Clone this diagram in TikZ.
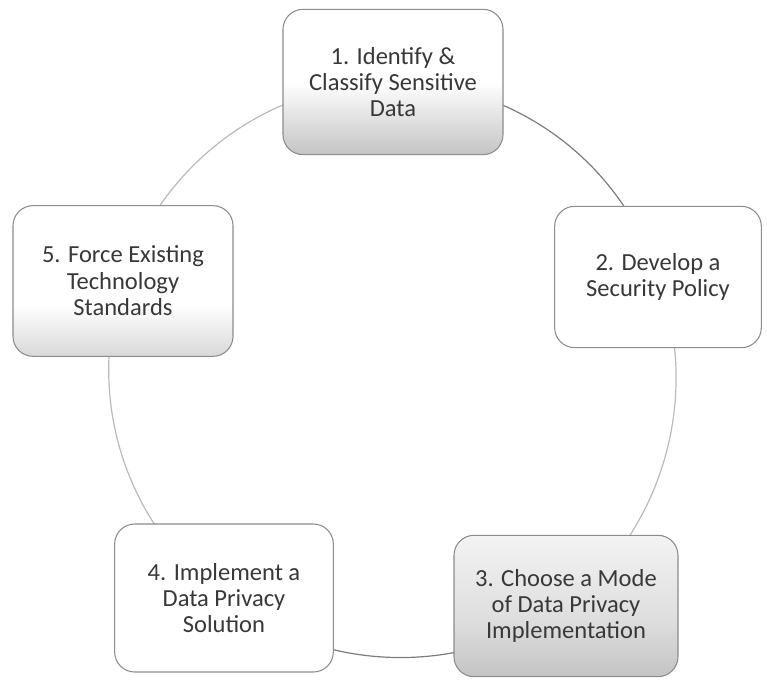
\documentclass[tikz,border=0pt]{standalone}
\usepackage{fontspec}
\setmainfont{Carlito}
\usetikzlibrary{backgrounds}
\definecolor{edgegray}{HTML}{8C8C8C}
\definecolor{txtgray}{HTML}{383838}
\definecolor{linkdark}{HTML}{7C7C7C}
\definecolor{linklight}{HTML}{BABABA}
\definecolor{shA}{HTML}{C4C4C4}
\definecolor{shB}{HTML}{C4C4C4}
\definecolor{shBm}{HTML}{DEDEDE}
\definecolor{shBt}{HTML}{F3F3F3}
\definecolor{shC}{HTML}{D8D8D8}
\pgfdeclareverticalshading{shadeone}{100bp}{color(0bp)=(shA); color(25bp)=(shA); color(50bp)=(white); color(100bp)=(white)}
\pgfdeclareverticalshading{shadethree}{100bp}{color(0bp)=(shB); color(25bp)=(shB); color(45bp)=(shBm); color(75bp)=(shBt); color(100bp)=(shBt)}
\pgfdeclareverticalshading{shadefive}{100bp}{color(0bp)=(shC); color(25bp)=(shC); color(42bp)=(white); color(100bp)=(white)}
\begin{document}
\begin{tikzpicture}[x=0.75pt,y=-0.75pt,
  stage/.style={draw=edgegray, line width=0.8pt, rounded corners=15pt, align=center,
    text=txtgray, font=\fontsize{18.4}{19.8}\selectfont,
    minimum width=165pt, minimum height=109pt, inner sep=0pt, fill=white},
  link/.style={line width=0.9pt, bend left=36, looseness=0.94}]
\useasboundingbox (0,0) rectangle (767,680);
\node[stage, shading=shadeone] (s1) at (393,82) {1. Identify \&\\Classify Sensitive\\Data};
\node[stage, minimum width=155pt, minimum height=106pt] (s2) at (658,277) {2. Develop a\\Security Policy};
\node[stage, shading=shadethree, minimum width=168pt, minimum height=106pt] (s3) at (566,606) {3. Choose a Mode\\of Data Privacy\\Implementation};
\node[stage, minimum width=164pt, minimum height=111pt] (s4) at (224,598) {4. Implement a\\Data Privacy\\Solution};
\node[stage, shading=shadefive, minimum width=165pt, minimum height=113pt] (s5) at (123,281) {5. Force Existing\\Technology\\Standards};
\begin{scope}[on background layer]
\draw[link, draw=linkdark] (s1.center) to (s2.center);
\draw[link, draw=linklight] (s2.center) to (s3.center);
\draw[link, draw=linkdark] (s3.center) to (s4.center);
\draw[link, draw=linklight] (s4.center) to (s5.center);
\draw[link, draw=linklight] (s5.center) to (s1.center);
\end{scope}
\end{tikzpicture}
\end{document}
